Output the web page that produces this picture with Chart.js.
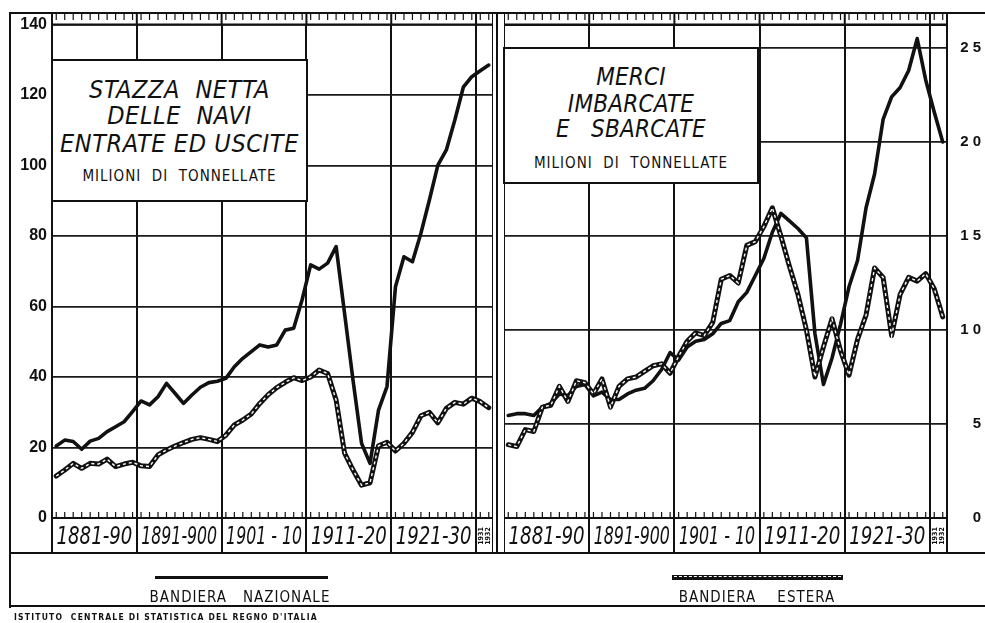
<!DOCTYPE html>
<html><head><meta charset="utf-8">
<script src="https://cdn.jsdelivr.net/npm/chart.js@4.4.1/dist/chart.umd.min.js"></script>
<style>
html,body{margin:0;padding:0;background:#fff;}
body{width:985px;height:623px;position:relative;overflow:hidden;font-family:"Liberation Sans Narrow","DejaVu Sans Condensed","Liberation Sans",sans-serif;color:#111;}
canvas{position:absolute;}
.h{position:absolute;background:#111;height:2px;}
.v{position:absolute;background:#111;width:2px;}
.box{position:absolute;background:#fff;border:2px solid #111;box-sizing:border-box;}
.ln{position:absolute;left:0;right:0;text-align:center;white-space:pre;line-height:1;}
.t{font-style:italic;font-size:25px;letter-spacing:0.6px;}
.t2{font-style:italic;font-size:24px;letter-spacing:0.2px;}
.s{font-size:15px;letter-spacing:1px;}
.lg{position:absolute;text-align:center;white-space:pre;font-size:15px;letter-spacing:1px;line-height:1;}
</style></head>
<body>
<canvas id="c1" width="483" height="560" style="left:10px;top:0px;"></canvas>
<canvas id="c2" width="481" height="560" style="left:504px;top:0px;"></canvas>

<!-- frame lines -->
<div class="h" style="left:10px;top:12px;width:975px;"></div>
<div class="v" style="left:9px;top:12px;height:596px;"></div>
<div class="v" style="left:496px;top:12px;height:542px;width:1.5px;"></div>
<div class="h" style="left:10px;top:552px;width:975px;"></div>
<div class="h" style="left:10px;top:605px;width:975px;"></div>
<div class="h" style="left:504px;top:23.5px;width:443px;"></div>

<!-- title boxes -->
<div class="box" style="left:51px;top:59px;width:257px;height:143px;">
  <div class="ln t" style="top:16px;">STAZZA  NETTA</div>
  <div class="ln t" style="top:42px;">DELLE  NAVI</div>
  <div class="ln t" style="top:70px;">ENTRATE ED USCITE</div>
  <div class="ln s" style="top:108px;">MILIONI  DI  TONNELLATE</div>
</div>
<div class="box" style="left:503px;top:47px;width:256px;height:137px;">
  <div class="ln t2" style="top:16px;">MERCI</div>
  <div class="ln t2" style="top:43px;">IMBARCATE</div>
  <div class="ln t2" style="top:68px;">E   SBARCATE</div>
  <div class="ln s" style="top:107px;">MILIONI  DI  TONNELLATE</div>
</div>

<!-- legend -->
<div style="position:absolute;left:155px;top:576px;width:173px;height:3px;background:#111;"></div>
<div class="lg" style="left:100px;width:280px;top:590px;">BANDIERA   NAZIONALE</div>
<div style="position:absolute;left:672px;top:574.5px;width:171px;height:5px;background:#111;">
  <div style="position:absolute;left:2px;right:2px;top:1.6px;height:0;border-top:1.6px dashed #fff;"></div>
</div>
<div class="lg" style="left:617px;width:280px;top:590px;">BANDIERA    ESTERA</div>
<div style="position:absolute;left:14px;top:612px;font-size:8.5px;letter-spacing:1.2px;white-space:pre;font-weight:bold;">ISTITUTO  CENTRALE DI STATISTICA DEL REGNO D'ITALIA</div>

<script>
// ---- data ----
const years = ['1881','1882','1883','1884','1885','1886','1887','1888','1889','1890',
  '1891','1892','1893','1894','1895','1896','1897','1898','1899','1900',
  '1901','1902','1903','1904','1905','1906','1907','1908','1909','1910',
  '1911','1912','1913','1914','1915','1916','1917','1918','1919','1920',
  '1921','1922','1923','1924','1925','1926','1927','1928','1929','1930',
  '1931','1932'];
const decadeLabels = ['1881-90','1891-900','1901 - 10','1911-20','1921-30'];
const lastLabel = ['1931','1932'];

// Stazza netta (milioni di tonnellate)
const stazzaNazionale = [20.4,22.1,21.7,19.5,21.8,22.6,24.5,25.9,27.3,30.2,
  33.2,32.1,34.4,38.2,35.4,32.5,34.9,37.1,38.4,38.8,
  39.6,42.9,45.3,47.2,49.1,48.5,49.1,53.3,53.8,62.0,
  71.8,70.6,72.3,77.0,58.0,39.0,21.2,15.5,30.6,37.3,
  65.6,74.1,72.7,80.8,90.2,100.1,104.4,112.9,122.2,125.2,
  126.9,128.5];
const stazzaEstera = [11.9,13.6,15.5,14.1,15.5,15.3,16.7,14.6,15.3,15.8,
  14.8,14.6,17.9,19.3,20.4,21.4,22.3,22.8,22.3,21.7,
  23.5,26.4,27.8,29.5,32.5,35.0,37.0,38.5,39.8,39.0,
  40.0,42.0,41.0,33.5,18.4,13.6,9.3,10.0,20.5,21.5,
  19.0,21.2,24.3,29.0,30.0,27.0,31.1,32.8,32.3,34.0,
  33.0,31.3];

// Merci imbarcate e sbarcate (milioni di tonnellate)
const merciNazionale = [5.45,5.55,5.55,5.45,5.9,6.1,6.6,6.5,7.0,7.1,
  6.5,6.7,6.3,6.3,6.6,6.8,6.9,7.3,7.9,8.8,
  8.4,9.1,9.4,9.5,9.8,10.35,10.5,11.5,12.0,12.9,
  13.8,15.2,16.2,15.8,15.4,14.9,9.8,7.1,8.5,10.3,
  12.3,13.7,16.5,18.3,21.2,22.4,22.9,23.8,25.5,23.3,
  21.6,20.0];
const merciEstera = [3.9,3.8,4.7,4.6,5.9,6.0,7.0,6.2,7.3,7.2,
  6.6,7.4,5.9,7.0,7.4,7.5,7.8,8.1,8.2,7.7,
  8.6,9.4,9.85,9.7,10.4,12.7,12.9,12.5,14.5,14.7,
  15.5,16.5,15.0,13.4,11.9,10.0,7.5,9.1,10.6,8.9,
  7.6,9.5,10.8,13.3,12.8,9.7,11.9,12.8,12.6,13.0,
  12.2,10.7];

const yTicksLeft = [0,20,40,60,80,100,120,140];
const yTicksRight = [0,5,10,15,20,25];
const yLabelsRight = ['0','5','1 0','1 5','2 0','2 5'];

// ---- helpers ----
const INK = '#111';
const NARROW = "'Liberation Sans Narrow','DejaVu Sans Condensed','Liberation Sans',sans-serif";
const isDecadeStart = i => i === undefined || i >= years.length || ((+years[i] - 1881) % 10 === 0);

const rulerPlugin = {
  id: 'ruler',
  afterDraw(chart) {
    const xs = chart.scales.x, ca = chart.chartArea, ctx = chart.ctx;
    ctx.save();
    ctx.strokeStyle = INK;
    ctx.lineWidth = 1.2;
    for (let i = 0; i < years.length; i++) {
      const px = xs.getPixelForValue(i);
      ctx.beginPath(); ctx.moveTo(px, 13); ctx.lineTo(px, 20); ctx.stroke();
      ctx.beginPath(); ctx.moveTo(px, ca.bottom); ctx.lineTo(px, ca.bottom - 6); ctx.stroke();
    }
    ctx.lineWidth = 2;
    const starts = [];
    for (let i = 0; i <= years.length; i++) {
      if (!isDecadeStart(i)) continue;
      starts.push(i);
      const px = xs.getPixelForValue(i - 0.5);
      ctx.beginPath(); ctx.moveTo(px, 12); ctx.lineTo(px, ca.top); ctx.stroke();
    }
    ctx.beginPath(); ctx.moveTo(ca.left, ca.top); ctx.lineTo(ca.right, ca.top); ctx.stroke();

    // period labels in the row below the axis
    ctx.fillStyle = INK;
    ctx.textAlign = 'center';
    ctx.textBaseline = 'middle';
    const rowMid = ca.bottom + 18;
    for (let k = 0; k < starts.length - 1; k++) {
      const a = xs.getPixelForValue(starts[k] - 0.5);
      const b = xs.getPixelForValue(starts[k + 1] - 0.5);
      const cx = (a + b) / 2;
      if (k < decadeLabels.length) {
        const txt = decadeLabels[k];
        ctx.font = 'italic 25px ' + NARROW;
        const w = ctx.measureText(txt).width;
        const sx = Math.min(1, (b - a - 9) / w);
        ctx.save(); ctx.translate(cx, rowMid + 1); ctx.scale(sx, 1);
        ctx.fillText(txt, 0, 0); ctx.restore();
      } else {
        ctx.font = 'bold 7px ' + NARROW;
        ctx.save(); ctx.translate(cx, rowMid); ctx.rotate(-Math.PI / 2);
        ctx.fillText(lastLabel[0], 0, -3.5);
        ctx.fillText(lastLabel[1], 0, 4);
        ctx.restore();
      }
    }
    ctx.restore();
  }
};

function makeChart(id, nazionale, estera, yMax, yTicks, yLabelFn, side) {
  const gridColor = c => isDecadeStart(c.index) ? INK : 'rgba(0,0,0,0)';
  return new Chart(document.getElementById(id), {
    type: 'line',
    data: {
      labels: years,
      datasets: [
        { label: 'Bandiera estera', data: estera, borderColor: '#fff', borderWidth: 1.4,
          borderDash: [3, 3], pointRadius: 0, tension: 0, order: 0 },
        { label: 'Bandiera estera', data: estera, borderColor: INK, borderWidth: 5,
          pointRadius: 0, tension: 0, order: 1, borderJoinStyle: 'round', borderCapStyle: 'round' },
        { label: 'Bandiera nazionale', data: nazionale, borderColor: INK, borderWidth: 3.6,
          pointRadius: 0, tension: 0, order: 2, borderJoinStyle: 'round', borderCapStyle: 'round' }
      ]
    },
    options: {
      responsive: false, animation: false, devicePixelRatio: 1,
      layout: { padding: side === 'left'
        ? { top: 24.5, bottom: 7, left: 0, right: 0 }
        : { top: 24.5, bottom: 7, left: 0, right: 4 } },
      plugins: { legend: { display: false }, tooltip: { enabled: false } },
      scales: {
        x: {
          type: 'category', offset: true,
          grid: { offset: true, color: gridColor, lineWidth: 2, drawTicks: true, tickLength: 35 },
          border: { display: true, color: INK, width: 2 },
          ticks: { display: false, autoSkip: false, maxRotation: 0 },
          afterFit: s => { s.height = 35; }
        },
        y: {
          position: side, min: 0, max: yMax,
          afterBuildTicks: s => { s.ticks = yTicks.map(v => ({ value: v })); },
          grid: { color: '#1a1a1a', lineWidth: 1.7, drawTicks: false },
          border: { display: true, color: INK, width: 2 },
          ticks: {
            padding: 5, color: INK, crossAlign: side === 'left' ? 'near' : 'far',
            font: { family: "'Liberation Sans','DejaVu Sans',sans-serif", size: side === 'left' ? 16 : 15, weight: 'bold' },
            callback: yLabelFn
          },
          afterFit: s => { s.width = side === 'left' ? 42 : 34; }
        }
      }
    },
    plugins: [rulerPlugin]
  });
}

makeChart('c1', stazzaNazionale, stazzaEstera, 140, yTicksLeft, v => String(v), 'left');
makeChart('c2', merciNazionale, merciEstera, 26.25, yTicksRight,
  v => yLabelsRight[yTicksRight.indexOf(v)], 'right');
</script>
</body></html>
